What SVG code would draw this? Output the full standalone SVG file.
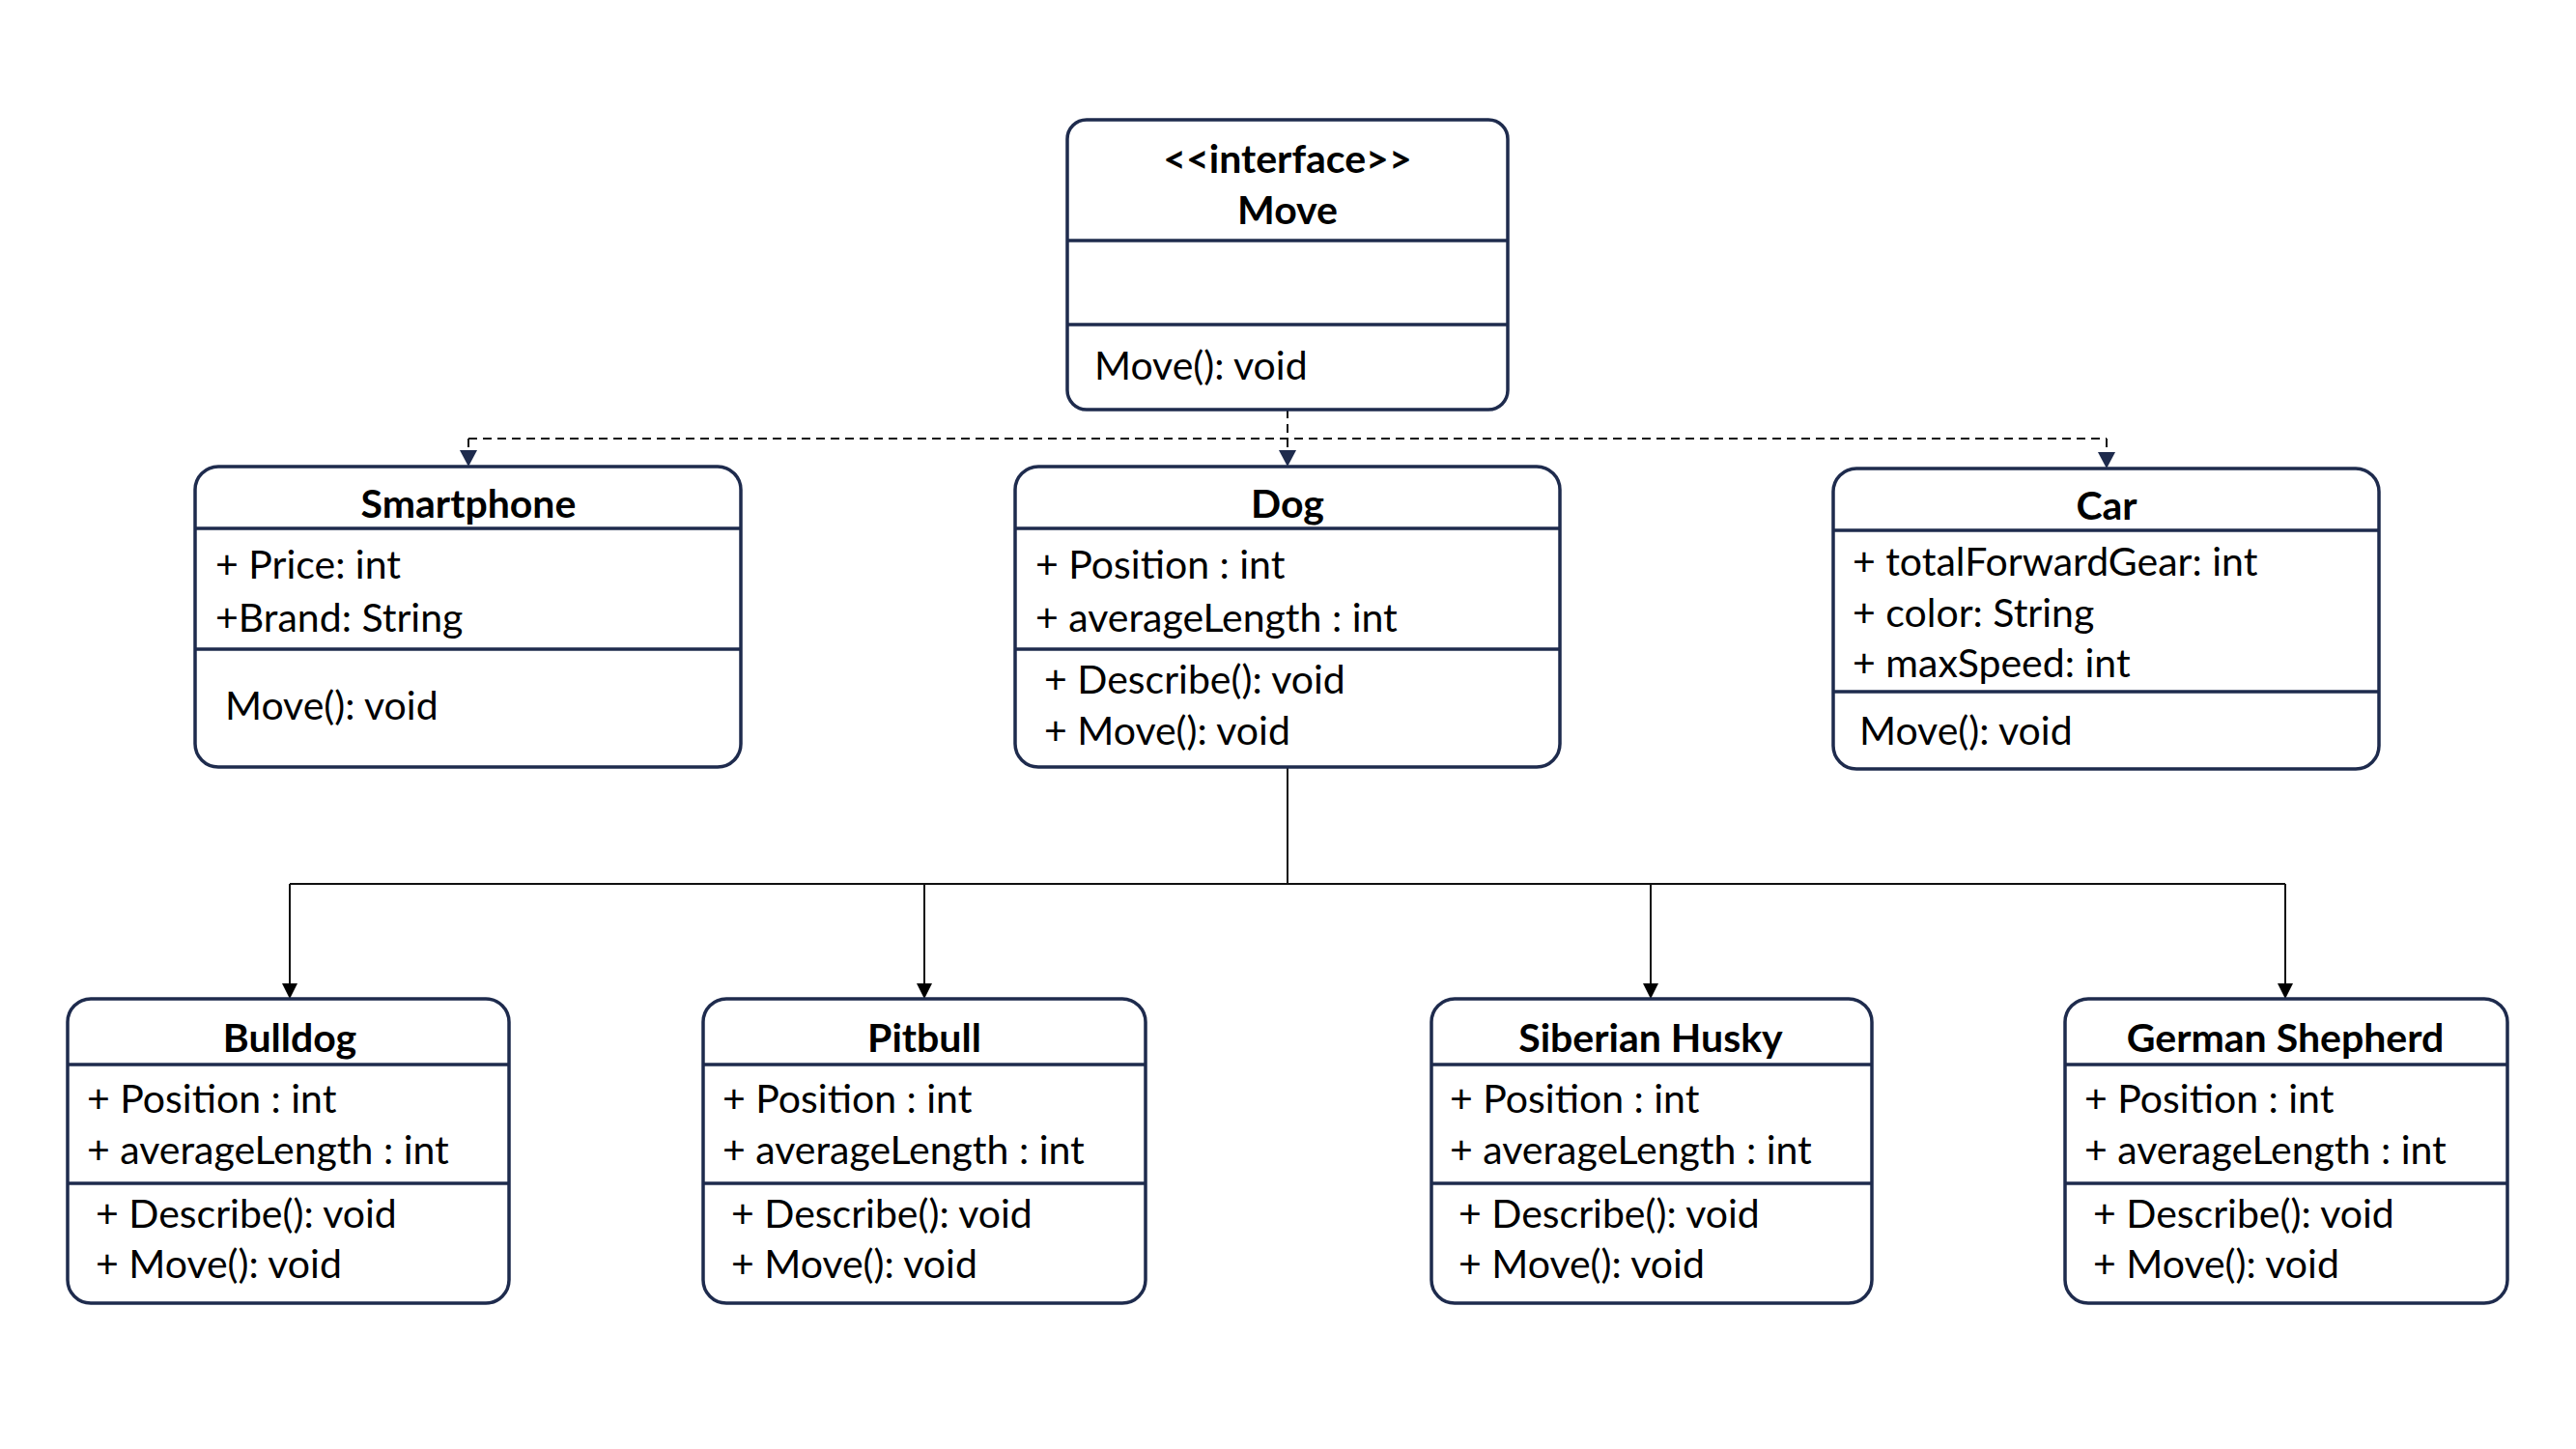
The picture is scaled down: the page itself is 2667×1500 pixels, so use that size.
<svg xmlns="http://www.w3.org/2000/svg" width="2667" height="1500" viewBox="0 0 2667 1500">
<defs>
<marker id="navyArrow" markerWidth="18" markerHeight="18" refX="9" refY="17" markerUnits="userSpaceOnUse" viewBox="0 0 18 18">
<path d="M0,0 L18,0 L9,17 Z" fill="#1E2B4D"/>
</marker>
<marker id="blackArrow" markerWidth="16" markerHeight="16" refX="8" refY="16" markerUnits="userSpaceOnUse" viewBox="0 0 16 16">
<path d="M0,0 L16,0 L8,16 Z" fill="#000"/>
</marker>
<style>
.box{fill:#fff;stroke:#1E2B4D;stroke-width:3.5}
.div{stroke:#1E2B4D;stroke-width:3.5}
text{font-family:Lato,"Liberation Sans",sans-serif;font-size:41px;fill:#000}
.t{font-weight:bold;text-anchor:middle}
.dash{fill:none;stroke:#111;stroke-width:2;stroke-dasharray:9,6}
.solid{fill:none;stroke:#111;stroke-width:2}
</style>
</defs>
<rect width="2667" height="1500" fill="#fff"/>

<g id="connectors">
<path class="dash" d="M1333,424 V454"/>
<path class="dash" d="M485,454 H2181"/>
<path class="dash" d="M485,454 V483" marker-end="url(#navyArrow)"/>
<path class="dash" d="M1333,454 V483" marker-end="url(#navyArrow)"/>
<path class="dash" d="M2181,454 V485" marker-end="url(#navyArrow)"/>
<path class="solid" d="M1333,794 V915"/>
<path class="solid" d="M300,915 H2366"/>
<path class="solid" d="M300,915 V1034" marker-end="url(#blackArrow)"/>
<path class="solid" d="M957,915 V1034" marker-end="url(#blackArrow)"/>
<path class="solid" d="M1709,915 V1034" marker-end="url(#blackArrow)"/>
<path class="solid" d="M2366,915 V1034" marker-end="url(#blackArrow)"/>
</g>

<g id="move">
<rect class="box" x="1105" y="124" width="456" height="300" rx="20"/>
<line class="div" x1="1105" y1="249" x2="1561" y2="249"/>
<line class="div" x1="1105" y1="336" x2="1561" y2="336"/>
<text class="t" x="1333" y="179">&lt;&lt;interface&gt;&gt;</text>
<text class="t" x="1333" y="232">Move</text>
<text x="1133" y="393">Move(): void</text>
</g>

<g id="smartphone">
<rect class="box" x="202" y="483" width="565" height="311" rx="24"/>
<line class="div" x1="202" y1="547" x2="767" y2="547"/>
<line class="div" x1="202" y1="672" x2="767" y2="672"/>
<text class="t" x="485" y="536">Smartphone</text>
<text x="223" y="599">+ Price: int</text>
<text x="223" y="654">+Brand: String</text>
<text x="233" y="745">Move(): void</text>
</g>

<g id="dog">
<rect class="box" x="1051" y="483" width="564" height="311" rx="24"/>
<line class="div" x1="1051" y1="547" x2="1615" y2="547"/>
<line class="div" x1="1051" y1="672" x2="1615" y2="672"/>
<text class="t" x="1333" y="536">Dog</text>
<text x="1072" y="599">+ Position : int</text>
<text x="1072" y="654">+ averageLength : int</text>
<text x="1081" y="718">+ Describe(): void</text>
<text x="1081" y="771">+ Move(): void</text>
</g>

<g id="car">
<rect class="box" x="1898" y="485" width="565" height="311" rx="24"/>
<line class="div" x1="1898" y1="549" x2="2463" y2="549"/>
<line class="div" x1="1898" y1="716" x2="2463" y2="716"/>
<text class="t" x="2181" y="538">Car</text>
<text x="1918" y="596">+ totalForwardGear: int</text>
<text x="1918" y="649">+ color: String</text>
<text x="1918" y="701">+ maxSpeed: int</text>
<text x="1925" y="771">Move(): void</text>
</g>

<g id="bulldog">
<rect class="box" x="70" y="1034" width="457" height="315" rx="24"/>
<line class="div" x1="70" y1="1102" x2="527" y2="1102"/>
<line class="div" x1="70" y1="1225" x2="527" y2="1225"/>
<text class="t" x="300" y="1089">Bulldog</text>
<text x="90" y="1152">+ Position : int</text>
<text x="90" y="1205">+ averageLength : int</text>
<text x="99" y="1271">+ Describe(): void</text>
<text x="99" y="1323">+ Move(): void</text>
</g>

<g id="pitbull">
<rect class="box" x="728" y="1034" width="458" height="315" rx="24"/>
<line class="div" x1="728" y1="1102" x2="1186" y2="1102"/>
<line class="div" x1="728" y1="1225" x2="1186" y2="1225"/>
<text class="t" x="957" y="1089">Pitbull</text>
<text x="748" y="1152">+ Position : int</text>
<text x="748" y="1205">+ averageLength : int</text>
<text x="757" y="1271">+ Describe(): void</text>
<text x="757" y="1323">+ Move(): void</text>
</g>

<g id="siberian-husky">
<rect class="box" x="1482" y="1034" width="456" height="315" rx="24"/>
<line class="div" x1="1482" y1="1102" x2="1938" y2="1102"/>
<line class="div" x1="1482" y1="1225" x2="1938" y2="1225"/>
<text class="t" x="1709" y="1089">Siberian Husky</text>
<text x="1501" y="1152">+ Position : int</text>
<text x="1501" y="1205">+ averageLength : int</text>
<text x="1510" y="1271">+ Describe(): void</text>
<text x="1510" y="1323">+ Move(): void</text>
</g>

<g id="german-shepherd">
<rect class="box" x="2138" y="1034" width="458" height="315" rx="24"/>
<line class="div" x1="2138" y1="1102" x2="2596" y2="1102"/>
<line class="div" x1="2138" y1="1225" x2="2596" y2="1225"/>
<text class="t" x="2366" y="1089">German Shepherd</text>
<text x="2158" y="1152">+ Position : int</text>
<text x="2158" y="1205">+ averageLength : int</text>
<text x="2167" y="1271">+ Describe(): void</text>
<text x="2167" y="1323">+ Move(): void</text>
</g>
</svg>
